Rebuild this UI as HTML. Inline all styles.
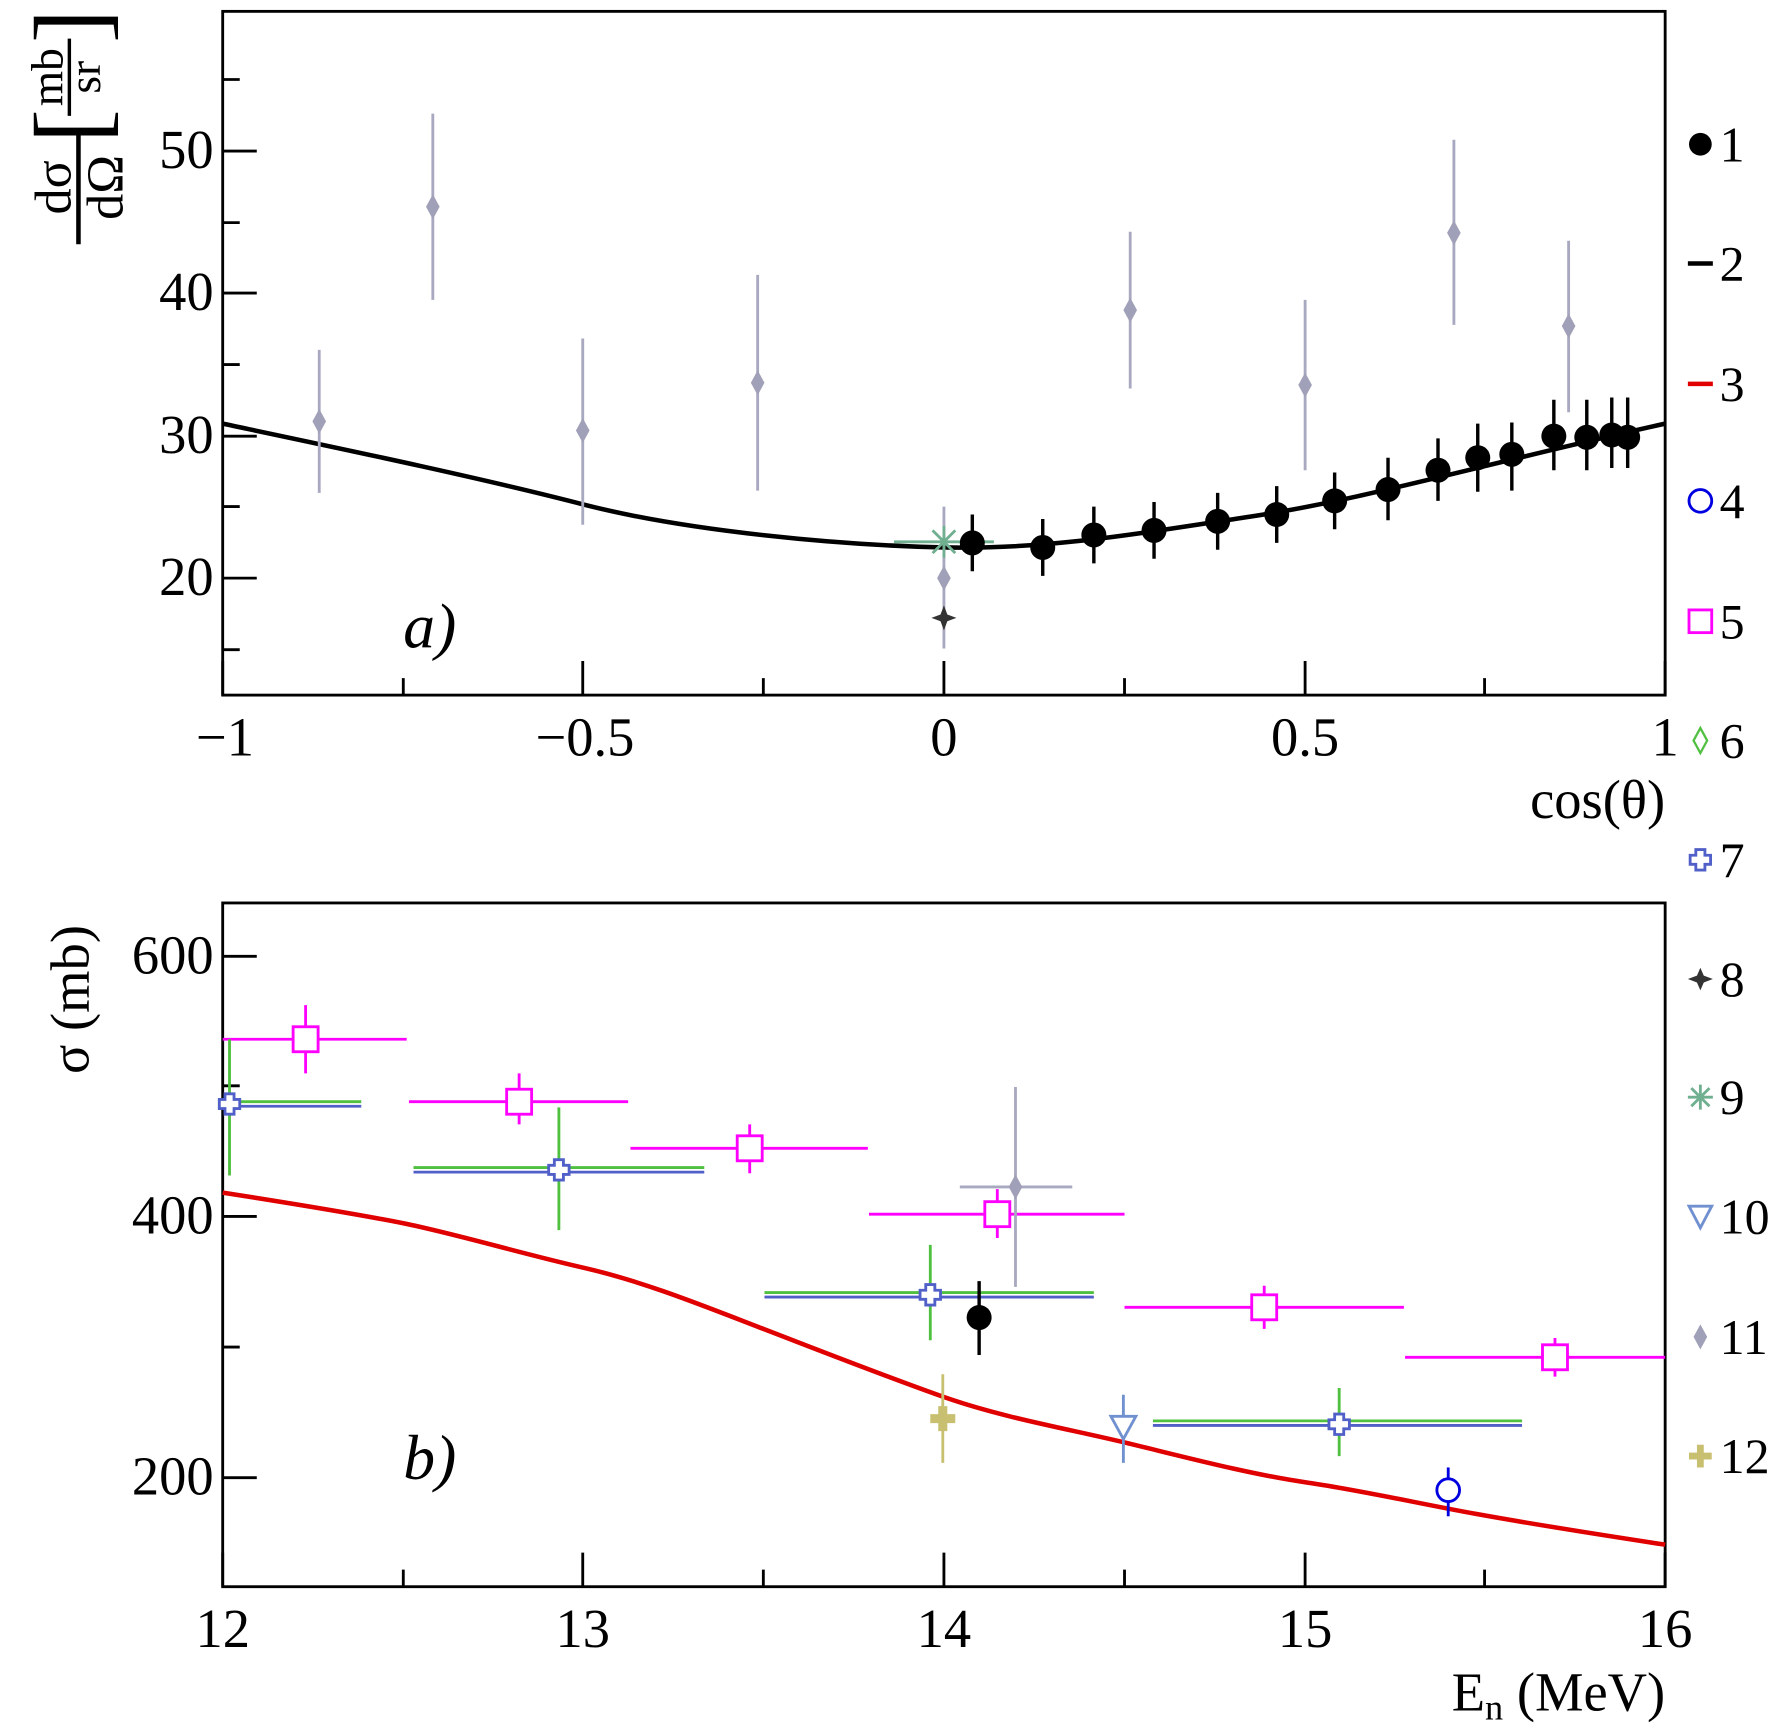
<!DOCTYPE html>
<html><head><meta charset="utf-8"><style>html,body{margin:0;padding:0;background:#fff}svg{display:block}text{font-family:"Liberation Serif",serif;fill:#000}</style></head><body>
<svg width="1772" height="1723" viewBox="0 0 1560 1517" xmlns="http://www.w3.org/2000/svg">
<g fill="none" stroke="#000" stroke-width="2.5">
<rect x="196" y="10" width="1270" height="602"/>
<rect x="196" y="795" width="1270" height="602"/>
<path d="M196 509h30M196 384h30M196 258h30M196 133h30M196 572h15M196 446h15M196 321h15M196 196h15M196 70h15"/>
<path d="M196 612v-30M513 612v-30M831 612v-30M1149 612v-30M1466 612v-30M355 612v-15M672 612v-15M990 612v-15M1307 612v-15"/>
<path d="M196 842h30M196 1071h30M196 1301h30M196 956h15M196 1186h15"/>
<path d="M196 1397v-30M513 1397v-30M831 1397v-30M1149 1397v-30M1466 1397v-30M355 1397v-15M672 1397v-15M990 1397v-15M1307 1397v-15"/>
</g>
<g font-size="48" text-anchor="end">
<text x="188" y="524">20</text><text x="188" y="399">30</text><text x="188" y="273">40</text><text x="188" y="148">50</text>
<text x="188" y="857">600</text><text x="188" y="1086">400</text><text x="188" y="1316">200</text>
</g>
<g font-size="48" text-anchor="middle">
<text x="198" y="665">−1</text><text x="515" y="665">−0.5</text><text x="831" y="665">0</text><text x="1149" y="665">0.5</text><text x="1466" y="665">1</text>
<text x="196" y="1450">12</text><text x="513" y="1450">13</text><text x="831" y="1450">14</text><text x="1149" y="1450">15</text><text x="1466" y="1450">16</text>
</g>
<text x="1466" y="720" font-size="48" text-anchor="end">cos(θ)</text>
<text x="1466" y="1506" font-size="48" text-anchor="end">E<tspan font-size="32" dy="8">n</tspan><tspan dy="-8"> (MeV)</tspan></text>
<text x="355" y="570" font-size="56" font-style="italic">a)</text>
<text x="355" y="1302" font-size="56" font-style="italic">b)</text>
<g transform="translate(78,880) rotate(-90)"><text x="0" y="0" font-size="48" text-anchor="middle">σ (mb)</text></g>
<g transform="rotate(-90)">
<text x="-165" y="62" font-size="46" text-anchor="middle">dσ</text>
<text x="-165" y="108" font-size="46" text-anchor="middle">dΩ</text>
<path d="M-215 69h100" stroke="#000" stroke-width="4"/>
<text x="-126" y="92" font-size="90">[</text>
<text x="-38" y="92" font-size="90">]</text>
<text x="-68" y="55" font-size="40" text-anchor="middle">mb</text>
<text x="-68" y="88" font-size="40" text-anchor="middle">sr</text>
<path d="M-102 61h68" stroke="#000" stroke-width="3"/>
</g>
<path d="M196 373 C300 395,420 420,513 444 S740 480,831 482 S1000 470,1100 455 S1300 410,1466 373" fill="none" stroke="#000" stroke-width="4"/>
<g stroke="#a8a8c0" stroke-width="2.5">
<path d="M281 308v126M381 100v164M513 298v164M667 242v190M831 446v125M995 204v138M1149 264v150M1280 123v163M1381 212v151"/>
</g>
<g fill="#a0a0b8">
<path d="M281 360l6 11-6 11-6-11z"/><path d="M381 171l6 11-6 11-6-11z"/><path d="M513 368l6 11-6 11-6-11z"/><path d="M667 326l6 11-6 11-6-11z"/><path d="M831 498l6 11-6 11-6-11z"/><path d="M995 262l6 11-6 11-6-11z"/><path d="M1149 328l6 11-6 11-6-11z"/><path d="M1280 194l6 11-6 11-6-11z"/><path d="M1381 276l6 11-6 11-6-11z"/>
</g>
<g stroke="#70b090" stroke-width="2.5"><path d="M787 477h88M831 463v28M821 467l20 20M841 467l-20 20"/></g>
<path d="M831 533l3 8 8 3-8 3-3 8-3-8-8-3 8-3z" fill="#333"/>
<g stroke="#000" stroke-width="3">
<path d="M856 453v50M918 457v50M963 446v50M1016 442v50M1072 434v50M1124 428v50M1175 416v50M1222 403v55M1266 386v55M1301 373v60M1331 372v60M1368 352v62M1397 352v62M1419 350v62M1433 350v62"/>
</g>
<g fill="#000">
<circle cx="856" cy="478" r="11"/><circle cx="918" cy="482" r="11"/><circle cx="963" cy="471" r="11"/><circle cx="1016" cy="467" r="11"/><circle cx="1072" cy="459" r="11"/><circle cx="1124" cy="453" r="11"/><circle cx="1175" cy="441" r="11"/><circle cx="1222" cy="431" r="11"/><circle cx="1266" cy="414" r="11"/><circle cx="1301" cy="403" r="11"/><circle cx="1331" cy="400" r="11"/><circle cx="1368" cy="384" r="11"/><circle cx="1397" cy="385" r="11"/><circle cx="1419" cy="383" r="11"/><circle cx="1433" cy="385" r="11"/>
</g>
<path d="M196 1050 C260 1060,310 1068,355 1077 S460 1104,513 1116 S620 1150,672 1170 S780 1212,831 1230 S940 1258,990 1270 S1100 1298,1149 1305 S1250 1324,1300 1333 S1420 1353,1466 1360" fill="none" stroke="#e00000" stroke-width="4"/>
<g stroke="#ff00ff" stroke-width="2.5" fill="none">
<path d="M196 915h162M269 885v60M360 970h193M457 945v45M555 1011h209M660 990v43M765 1069h225M878 1047v43M990 1151h246M1113 1132v38M1237 1195h229M1369 1178v34"/>
<rect x="258" y="904" width="22" height="22" fill="#fff"/><rect x="446" y="959" width="22" height="22" fill="#fff"/><rect x="649" y="1000" width="22" height="22" fill="#fff"/><rect x="867" y="1058" width="22" height="22" fill="#fff"/><rect x="1102" y="1140" width="22" height="22" fill="#fff"/><rect x="1358" y="1184" width="22" height="22" fill="#fff"/>
</g>
<g stroke="#50c040" stroke-width="2.5">
<path d="M196 970h122M202 915v120M364 1028h256M492 975v108M673 1138h290M819 1096v84M1015 1251h325M1179 1222v60"/>
</g>
<g stroke="#5060c8" stroke-width="2.5">
<path d="M196 974h122M364 1032h256M673 1142h290M1015 1255h325"/>
</g>
<g stroke="#5060c8" stroke-width="2.5" fill="#fff">
<path d="M198 963h8v5h5v8h-5v5h-8v-5h-5v-8h5z"/>
<path d="M488 1021h8v5h5v8h-5v5h-8v-5h-5v-8h5z"/>
<path d="M815 1131h8v5h5v8h-5v5h-8v-5h-5v-8h5z"/>
<path d="M1175 1245h8v5h5v8h-5v5h-8v-5h-5v-8h5z"/>
</g>
<g stroke="#a8a8c0" stroke-width="2.5"><path d="M845 1045h99M894 957v176"/></g>
<path d="M894 1034l6 11-6 11-6-11z" fill="#a0a0b8"/>
<path d="M862 1128v65" stroke="#000" stroke-width="3"/><circle cx="862" cy="1160" r="11"/>
<path d="M989 1228v60" stroke="#7090d0" stroke-width="2.5"/>
<path d="M978 1247h22l-11 20z" fill="#fff" stroke="#7090d0" stroke-width="2.5"/>
<path d="M830 1210v78" stroke="#c8c070" stroke-width="2.5"/>
<path d="M827 1239h6v7h7v6h-7v7h-6v-7h-7v-6h7z" fill="#c8c070" stroke="#c8c070" stroke-width="2"/>
<path d="M1275 1292v43" stroke="#0000e0" stroke-width="2.5"/>
<circle cx="1275" cy="1312" r="10" fill="#fff" stroke="#0000e0" stroke-width="2.5"/>
<g font-size="44">
<circle cx="1497" cy="127" r="10"/><text x="1514" y="142">1</text>
<path d="M1486 232h22" stroke="#000" stroke-width="4"/><text x="1514" y="247">2</text>
<path d="M1486 338h22" stroke="#e00000" stroke-width="4"/><text x="1514" y="353">3</text>
<circle cx="1497" cy="441" r="10" fill="none" stroke="#0000e0" stroke-width="2.5"/><text x="1514" y="456">4</text>
<rect x="1487" y="537" width="20" height="20" fill="none" stroke="#ff00ff" stroke-width="2.5"/><text x="1514" y="562">5</text>
<path d="M1497 641l6 11-6 11-6-11z" fill="none" stroke="#50c040" stroke-width="2"/><text x="1514" y="667">6</text>
<path d="M1493 748h8v5h5v8h-5v5h-8v-5h-5v-8h5z" fill="none" stroke="#5060c8" stroke-width="2.5"/><text x="1514" y="772">7</text>
<path d="M1497 852l3 7 8 3-8 3-3 7-3-7-8-3 8-3z" fill="#333"/><text x="1514" y="877">8</text>
<g stroke="#70b090" stroke-width="2.5"><path d="M1497 955v22M1486 966h22M1489 958l16 16M1505 958l-16 16"/></g><text x="1514" y="981">9</text>
<path d="M1487 1062h20l-10 19z" fill="none" stroke="#7090d0" stroke-width="2.5"/><text x="1514" y="1086">10</text>
<path d="M1497 1166l6 11-6 11-6-11z" fill="#a0a0b8"/><text x="1514" y="1192">11</text>
<path d="M1494 1272h6v7h7v6h-7v7h-6v-7h-7v-6h7z" fill="#c8c070"/><text x="1514" y="1297">12</text>
</g>
</svg>
</body></html>
